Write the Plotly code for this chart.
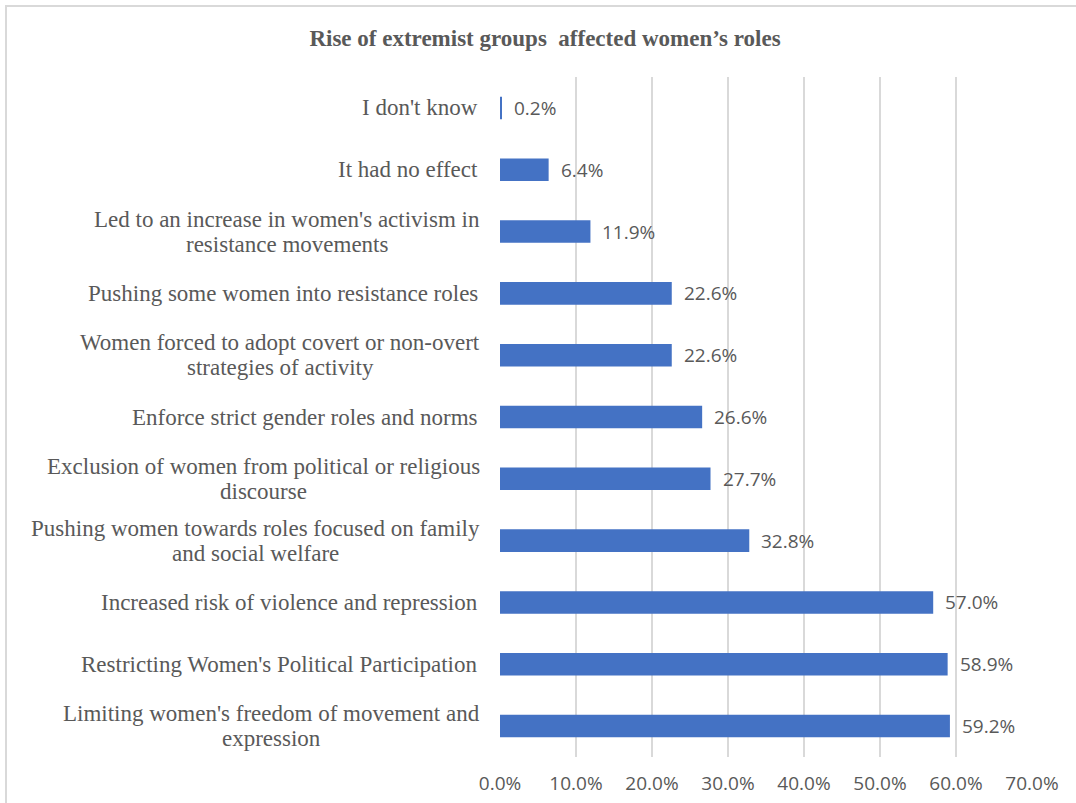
import plotly.graph_objects as go

categories = [
    "I don't know",
    "It had no effect",
    "Led to an increase in women's activism in<br>resistance movements",
    "Pushing some women into resistance roles",
    "Women forced to adopt covert or non-overt<br>strategies of activity",
    "Enforce strict gender roles and norms",
    "Exclusion of women from political or religious<br>discourse",
    "Pushing women towards roles focused on family<br>and social welfare",
    "Increased risk of violence and repression",
    "Restricting Women's Political Participation",
    "Limiting women's freedom of movement and<br>expression",
]
values = [0.2, 6.4, 11.9, 22.6, 22.6, 26.6, 27.7, 32.8, 57.0, 58.9, 59.2]
title_text = "Rise of extremist groups  affected women\u2019s roles"
tick_vals = [0, 10, 20, 30, 40, 50, 60, 70]
tick_text = ["0.0%", "10.0%", "20.0%", "30.0%", "40.0%", "50.0%", "60.0%", "70.0%"]

W, H = 1076, 803
L, R, T, B = 500, 44, 77, 46
pw, ph = W - L - R, H - T - B

TEXT = "#595959"
SERIF = "Liberation Serif, Times New Roman, serif"
SANS = "Open Sans, Noto Sans, sans-serif"
LINE_H = 25
LABEL_GAP = 20

fig = go.Figure(go.Bar(
    x=values, y=list(range(len(categories))), orientation="h",
    marker=dict(color="#4472C4", line=dict(width=0)),
    hoverinfo="skip",
))

annotations = []
for i, (c, v) in enumerate(zip(categories, values)):
    lines = c.split("<br>")
    n = len(lines)
    for k, line in enumerate(lines):
        annotations.append(dict(
            x=0, y=i, xref="x", yref="y", text=line, showarrow=False,
            xanchor="right" if n == 1 else "center", yanchor="middle",
            xshift=-LABEL_GAP if n == 1 else 0,
            yshift=((n - 1) / 2 - k) * LINE_H,
            font=dict(family=SERIF, size=23, color=TEXT),
            name=f"cat{i}_{k}",
        ))
    annotations.append(dict(
        x=v, y=i, xref="x", yref="y", text=f"{v:.1f}%", showarrow=False,
        xanchor="left", yanchor="middle", xshift=10,
        font=dict(family=SANS, size=19, color=TEXT),
    ))

fig.update_layout(
    width=W, height=H,
    margin=dict(l=L, r=R, t=T, b=B, autoexpand=False),
    paper_bgcolor="white", plot_bgcolor="white",
    bargap=0.635,
    showlegend=False,
    title=dict(text="<b>" + title_text + "</b>", x=545 / W, xref="container",
               xanchor="center", y=1 - 38 / H, yref="container", yanchor="middle",
               font=dict(family=SERIF, size=23, color=TEXT)),
    annotations=annotations,
    xaxis=dict(range=[0, 70], tickvals=tick_vals, ticktext=tick_text,
               showgrid=True, gridcolor="#D9D9D9", gridwidth=2,
               zeroline=False, showline=False, ticks="",
               ticklabelstandoff=13, automargin=False,
               tickfont=dict(family=SANS, size=19, color=TEXT)),
    yaxis=dict(range=[len(categories) - 0.5, -0.5], showticklabels=False,
               showgrid=False, zeroline=False, showline=False, ticks="",
               automargin=False),
    shapes=[dict(type="rect", xref="paper", yref="paper",
                 x0=(6 - L) / pw, x1=(W + 10 - L) / pw,
                 y0=(H - B - (H + 10)) / ph, y1=(H - B - 6) / ph,
                 line=dict(color="#D9D9D9", width=2), fillcolor="rgba(0,0,0,0)",
                 layer="below")],
)

# Multi-line category labels: each line is centred on the centre of the
# block whose right edge sits LABEL_GAP px left of the axis.
post_script = """
var gd = document.getElementsByClassName('plotly-graph-div')[0];
(function(){
  var anns = gd.layout.annotations, upd = {}, groups = {};
  var nodes = gd.querySelectorAll('.annotation');
  anns.forEach(function(a, idx){
    if (a.name && a.name.indexOf('cat') === 0) {
      var g = a.name.split('_')[0];
      (groups[g] = groups[g] || []).push(idx);
    }
  });
  Object.keys(groups).forEach(function(g){
    var ids = groups[g]; if (ids.length < 2) return;
    var ws = ids.map(function(i){ return nodes[i].querySelector('.annotation-text').getBBox().width; });
    var maxw = Math.max.apply(null, ws);
    ids.forEach(function(i){ upd['annotations['+i+'].xshift'] = -%d - maxw/2; });
  });
  Plotly.relayout(gd, upd);
})();
""" % LABEL_GAP

fig.write_html("out.html", post_script=post_script)
